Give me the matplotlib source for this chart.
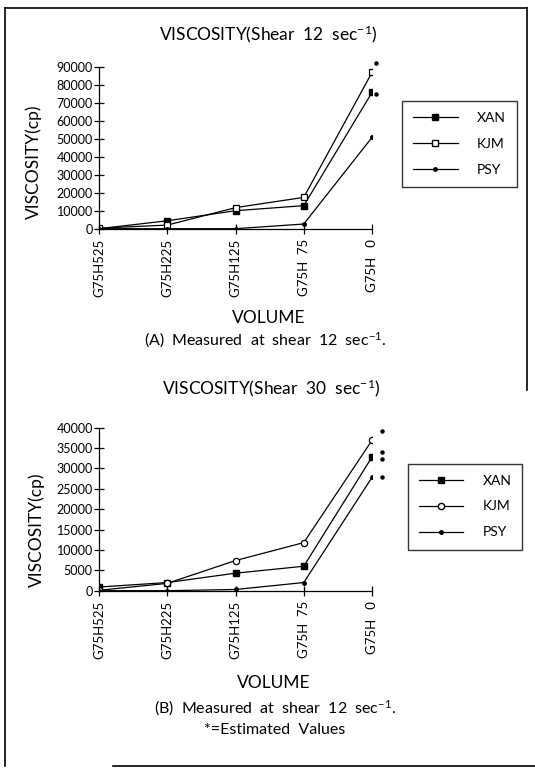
import numpy as np
import matplotlib
matplotlib.use("Agg")
import matplotlib.pyplot as plt
from matplotlib.lines import Line2D

plt.rcParams['font.family'] = ['Lato', 'DejaVu Sans']
plt.rcParams['mathtext.fontset'] = 'custom'
plt.rcParams['mathtext.rm'] = 'Lato'
plt.rcParams['mathtext.default'] = 'regular'

W, H = 535, 768

categories = ["G75H525", "G75H225", "G75H125", "G75H  75", "G75H   0"]
series_names = ["XAN", "KJM", "PSY"]

# shear 12 sec^-1
xan_12 = [0, 4400, 10000, 12800, 75700]
kjm_12 = [300, 2000, 11700, 17400, 86800]
psy_12 = [0, 0, 0, 2600, 50700]
est_12 = [92000, 75000]
yticks_12 = list(range(0, 90001, 10000))

# shear 30 sec^-1
xan_30 = [900, 2000, 4300, 6000, 32800]
kjm_30 = [100, 1800, 7400, 11800, 36900]
psy_30 = [0, 0, 300, 2000, 27800]
est_30 = [39200, 32400, 34000, 28000]
yticks_30 = list(range(0, 40001, 5000))

###############################################################################

def px_rect(x0, y0, x1, y1):
    ''' pixel box (top-left origin) -> figure fraction rect '''
    return [x0 / W, 1 - y1 / H, (x1 - x0) / W, (y1 - y0) / H]

def draw_panel(ax, xan, kjm, psy, est, yticks, kjm_marker, est_dx):
    x = np.arange(len(categories))
    ax.plot(x, xan, color="black", lw=0.9, marker="s", ms=4, mfc="black", mec="black")
    ax.plot(x, kjm, color="black", lw=0.9, marker=kjm_marker, ms=4.5, mfc="white",
            mec="black", mew=0.9)
    ax.plot(x, psy, color="black", lw=0.9, marker="o", ms=2.5, mfc="black", mec="black")
    ax.plot([len(categories) - 1 + est_dx] * len(est), est, ls="none", marker="o",
            ms=2.2, color="black", clip_on=False)
    ax.set_xlim(0, len(categories) - 1)
    ax.set_ylim(0, yticks[-1])
    ax.set_xticks(x)
    ax.set_xticklabels(categories, rotation=90, fontsize=9.5)
    ax.set_yticks(yticks)
    ax.set_yticklabels([str(v) for v in yticks], fontsize=9)
    ax.tick_params(direction="inout", length=7, width=0.9, pad=1)
    ax.tick_params(axis="x", pad=4)
    for s in ["top", "right"]:
        ax.spines[s].set_visible(False)
    for s in ["left", "bottom"]:
        ax.spines[s].set_linewidth(0.9)
    ax.set_facecolor("none")

def draw_legend(fig, box, kjm_marker):
    handles = [
        Line2D([], [], color="black", lw=0.9, marker="s", ms=4, mfc="black"),
        Line2D([], [], color="black", lw=0.9, marker=kjm_marker, ms=4.5, mfc="white"),
        Line2D([], [], color="black", lw=0.9, marker="o", ms=2.5, mfc="black"),
    ]
    leg = fig.legend(handles, series_names, bbox_to_anchor=px_rect(*box), loc="center",
                     frameon=True, fancybox=False, edgecolor="black", fontsize=10,
                     handlelength=3.2, labelspacing=1.0, handletextpad=1.4,
                     borderpad=0.8)
    leg.get_frame().set_linewidth(1.0)

###############################################################################

fig = plt.figure(figsize=(W / 100, H / 100), dpi=100)

# scanned page frame
frame = dict(color="black", lw=1.2, transform=fig.transFigure)
fig.add_artist(Line2D([5 / W, 5 / W], [1 - 8 / H, 1 - 766 / H], **frame))
fig.add_artist(Line2D([5 / W, 527 / W], [1 - 8 / H, 1 - 8 / H], **frame))
fig.add_artist(Line2D([527 / W, 527 / W], [1 - 8 / H, 1 - 390 / H], **frame))
fig.add_artist(Line2D([113 / W, 535 / W], [1 - 766 / H, 1 - 766 / H], **frame))

ax1 = fig.add_axes(px_rect(99, 66.7, 372, 228.7))
draw_panel(ax1, xan_12, kjm_12, psy_12, est_12, yticks_12, "s", 0.06)
draw_legend(fig, (408, 95, 511, 193), "s")

ax2 = fig.add_axes(px_rect(99, 427.7, 372, 590.7))
draw_panel(ax2, xan_30, kjm_30, psy_30, est_30, yticks_30, "o", 0.15)
draw_legend(fig, (413, 458, 517, 555), "o")

def ftext(x, y, s, **kw):
    fig.text(x / W, 1 - y / H, s, ha="center", va="center", **kw)

ftext(268, 34, r"VISCOSITY(Shear  12  sec$^{-1}$)", fontsize=12.5)
ftext(34, 162, "VISCOSITY(cp)", fontsize=12.5, rotation=90)
ftext(269, 318, "VOLUME", fontsize=12.5)
ftext(265, 340, r"(A)  Measured  at  shear  12  sec$^{-1}$.", fontsize=11.5)

ftext(271, 388, r"VISCOSITY(Shear  30  sec$^{-1}$)", fontsize=12.5)
ftext(37, 530, "VISCOSITY(cp)", fontsize=12.5, rotation=90)
ftext(274, 683, "VOLUME", fontsize=12.5)
ftext(275, 708, r"(B)  Measured  at  shear  12  sec$^{-1}$.", fontsize=11.5)
ftext(275, 730, "*=Estimated  Values", fontsize=11.5)

fig.savefig("out.png", dpi=100)
